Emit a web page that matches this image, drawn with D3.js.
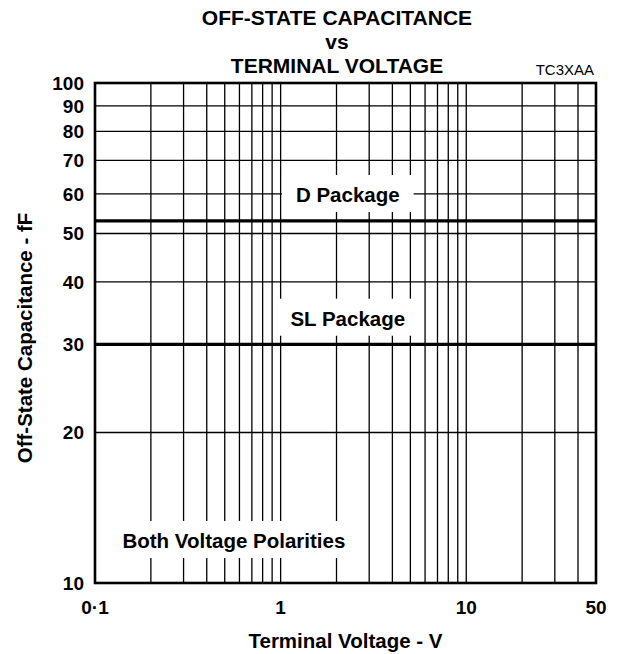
<!DOCTYPE html>
<html>
<head>
<meta charset="utf-8">
<script src="https://cdn.jsdelivr.net/npm/d3@7"></script>
<style>
  body { margin: 0; background: #fff; }
  text { font-family: "Liberation Sans", Arial, sans-serif; fill: #000; }
</style>
</head>
<body>
<div id="chart"></div>
<script>
// chart values
const xGrid = [0.2, 0.3, 0.4, 0.5, 0.6, 0.7, 0.8, 0.9, 1, 2, 3, 4, 5, 6, 7, 8, 9, 10, 20, 30, 40];
const yGrid = [20, 30, 40, 50, 60, 70, 80, 90];
const xTicks = [0.1, 1, 10, 50];
const xTickLabels = ["0·1", "1", "10", "50"];
const yTicks = [10, 20, 30, 40, 50, 60, 70, 80, 90, 100];
const dPackage = [[0.1, 53], [50, 53]];
const slPackage = [[0.1, 30], [50, 30]];
const labels = [
    {text: "D Package", x: 2.3, y: 57.8},
    {text: "SL Package", x: 2.3, y: 32.7},
    {text: "Both Voltage Polarities", x: 0.56, y: 11.75}
];

const size = {width: 618, height: 654};
const margin = {top: 83, right: 22, bottom: 71, left: 95};
const width = size.width - margin.left - margin.right;
const height = size.height - margin.top - margin.bottom;

const svg = d3.select("#chart").append("svg")
    .attr("width", size.width)
    .attr("height", size.height);

const g = svg.append("g")
    .attr("transform", "translate(" + margin.left + "," + margin.top + ")");

const x = d3.scaleLog().domain([0.1, 50]).range([0, width]);
const y = d3.scaleLog().domain([10, 100]).range([height, 0]);

// grid
g.selectAll(".vgrid").data(xGrid).join("line")
    .attr("x1", d => x(d)).attr("x2", d => x(d))
    .attr("y1", 0).attr("y2", height)
    .attr("stroke", "#000").attr("stroke-width", 1.3);

g.selectAll(".hgrid").data(yGrid).join("line")
    .attr("x1", 0).attr("x2", width)
    .attr("y1", d => y(d)).attr("y2", d => y(d))
    .attr("stroke", "#000").attr("stroke-width", 1.3);

// label boxes knock out the grid
const labelG = g.append("g");
labels.forEach(l => {
    const t = labelG.append("text")
        .attr("x", x(l.x)).attr("y", y(l.y))
        .attr("text-anchor", "middle")
        .attr("font-size", 20.5).attr("font-weight", "bold")
        .text(l.text);
    const b = t.node().getBBox();
    labelG.insert("rect", "text")
        .attr("x", b.x - 14).attr("y", b.y - 8)
        .attr("width", b.width + 28).attr("height", b.height + 14)
        .attr("fill", "#fff");
});

// series
const line = d3.line().x(d => x(d[0])).y(d => y(d[1]));
[dPackage, slPackage].forEach(s => {
    g.append("path").datum(s)
        .attr("d", line)
        .attr("fill", "none")
        .attr("stroke", "#000")
        .attr("stroke-width", 3.2);
});

// frame
g.append("rect")
    .attr("width", width).attr("height", height)
    .attr("fill", "none").attr("stroke", "#000").attr("stroke-width", 2.6);

// tick labels
g.selectAll(".ytick").data(yTicks).join("text")
    .attr("x", -11).attr("y", d => y(d))
    .attr("dy", "0.36em")
    .attr("text-anchor", "end")
    .attr("font-size", 19).attr("font-weight", "bold")
    .text(d => d);

g.selectAll(".xtick").data(xTicks).join("text")
    .attr("x", d => x(d)).attr("y", height + 31)
    .attr("text-anchor", "middle")
    .attr("font-size", 19).attr("font-weight", "bold")
    .text((d, i) => xTickLabels[i]);

// axis titles
svg.append("text")
    .attr("x", margin.left + width / 2).attr("y", 648)
    .attr("text-anchor", "middle")
    .attr("font-size", 20.5).attr("font-weight", "bold")
    .text("Terminal Voltage - V");

svg.append("text")
    .attr("transform", "translate(32,338) rotate(-90)")
    .attr("text-anchor", "middle")
    .attr("font-size", 20.5).attr("font-weight", "bold")
    .text("Off-State Capacitance - fF");

// title
const title = ["OFF-STATE CAPACITANCE", "vs", "TERMINAL VOLTAGE"];
svg.selectAll(".title").data(title).join("text")
    .attr("x", 337).attr("y", (d, i) => 25 + i * 24)
    .attr("text-anchor", "middle")
    .attr("font-size", 21).attr("font-weight", "bold")
    .text(d => d);

svg.append("text")
    .attr("x", 594).attr("y", 75)
    .attr("text-anchor", "end")
    .attr("font-size", 15)
    .text("TC3XAA");
</script>
</body>
</html>
